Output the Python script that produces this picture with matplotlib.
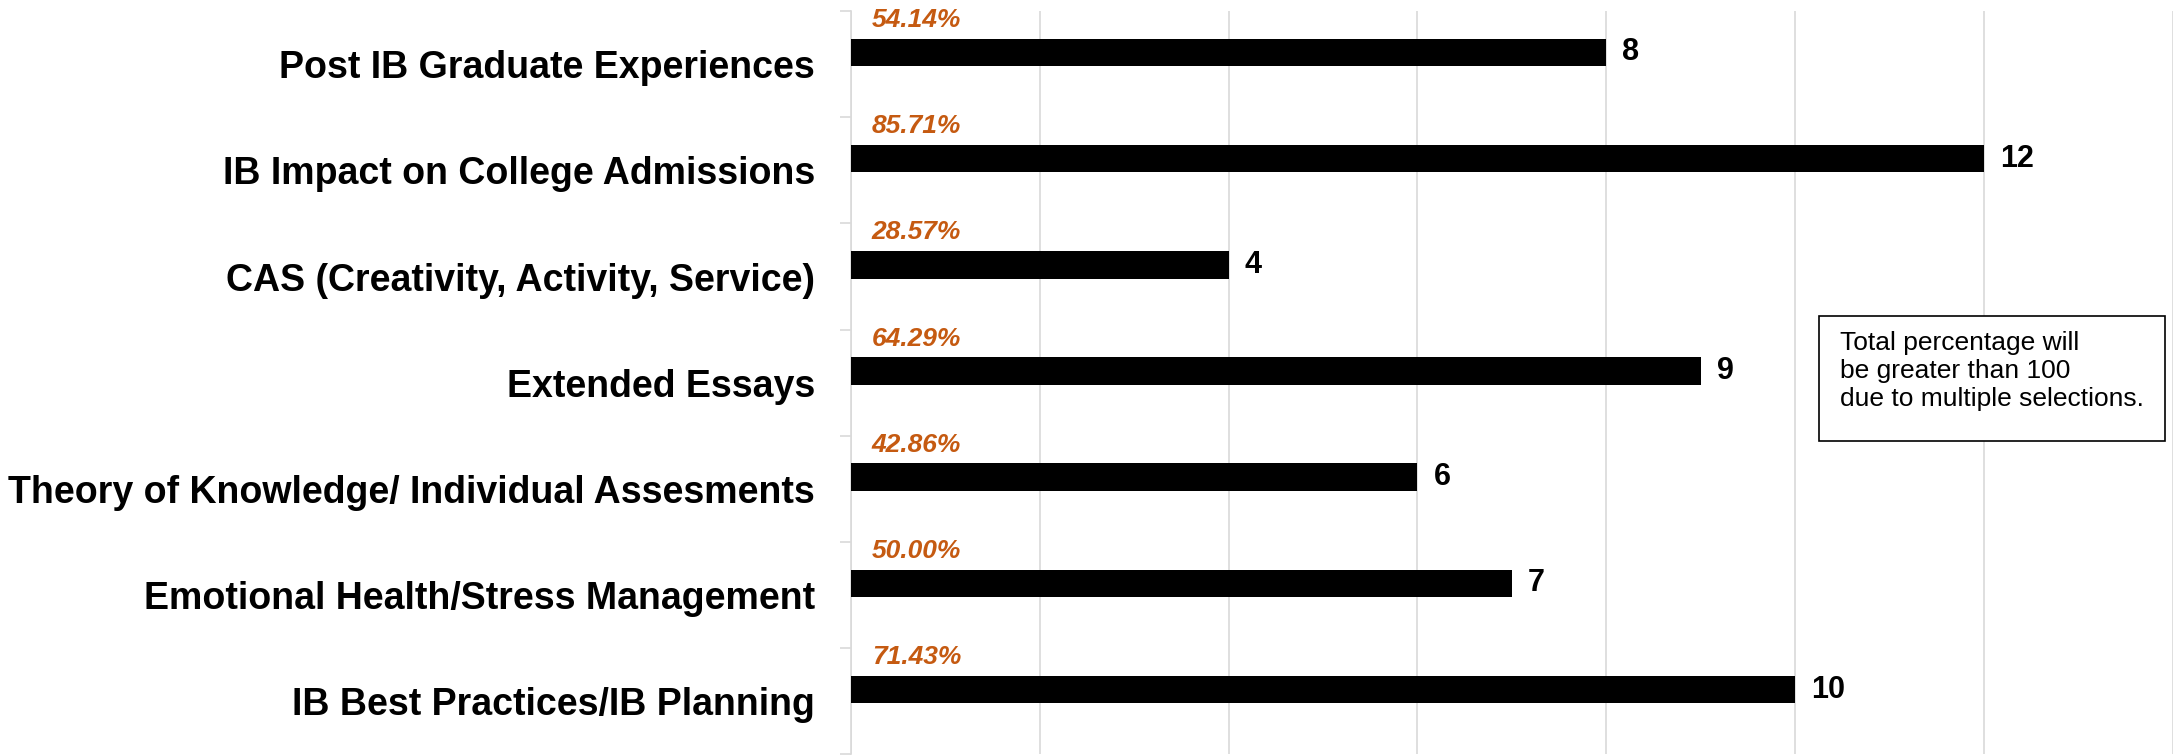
import matplotlib
matplotlib.use("Agg")
import matplotlib.pyplot as plt
from matplotlib.patches import Rectangle

plt.rcParams['font.family'] = ['Liberation Sans', 'DejaVu Sans']

categories = [
    "Post IB Graduate Experiences",
    "IB Impact on College Admissions",
    "CAS (Creativity, Activity, Service)",
    "Extended Essays",
    "Theory of Knowledge/ Individual Assesments",
    "Emotional Health/Stress Management",
    "IB Best Practices/IB Planning",
]
counts = [8, 12, 4, 9, 6, 7, 10]
percents = [54.14, 85.71, 28.57, 64.29, 42.86, 50.00, 71.43]
note_lines = ["Total percentage will", "be greater than 100", "due to multiple selections."]

orange = "#C55A11"
grid_grey = "#D9D9D9"

fig = plt.figure(figsize=(21.76, 7.55), dpi=100)
ax = fig.add_axes([0.3911, 0.0008, 0.6074, 0.9846])

pos = list(range(len(categories)))
bar_pos = [p - 0.11 for p in pos]
ax.barh(bar_pos, counts, height=0.26, color="black", zorder=3)

for y, c in zip(bar_pos, counts):
    ax.annotate(str(c), (c, y), xytext=(11.5, 0), textcoords="offset points",
                ha="left", va="center", fontsize=22, fontweight="bold")

for p, pct in zip(pos, percents):
    ax.text(0.22, p - 0.35, f"{pct:.2f}%", ha="left", va="baseline",
            fontsize=19, fontweight="bold", fontstyle="italic", color=orange)

ax.set_xlim(0, 14)
ax.set_ylim(len(categories) - 0.5, -0.5)
ax.set_xticks(range(0, 15, 2))
ax.set_xticklabels([])
ax.tick_params(axis="x", length=0)
ax.grid(axis="x", color=grid_grey, linewidth=1.2, zorder=0)

ax.set_yticks(pos)
ax.set_yticklabels(categories, fontsize=27, fontweight="bold")
ax.tick_params(axis="y", which="major", length=0, pad=26)
ax.set_yticks([p - 0.5 for p in pos] + [len(pos) - 0.5], minor=True)
ax.tick_params(axis="y", which="minor", length=8, width=1.2, color=grid_grey)

for s in ["top", "right", "bottom"]:
    ax.spines[s].set_visible(False)
ax.spines["left"].set_color(grid_grey)
ax.spines["left"].set_linewidth(1.2)

fig.patches.append(Rectangle((0.836, 0.416), 0.159, 0.1656, transform=fig.transFigure,
                             facecolor="white", edgecolor="black", linewidth=1.2, zorder=5))
fig.text(0.8456, 1 - 331 / 755, "\n".join(note_lines), ha="left", va="top",
         fontsize=19, linespacing=1.2, zorder=6)

fig.savefig("out.png", dpi=100)
